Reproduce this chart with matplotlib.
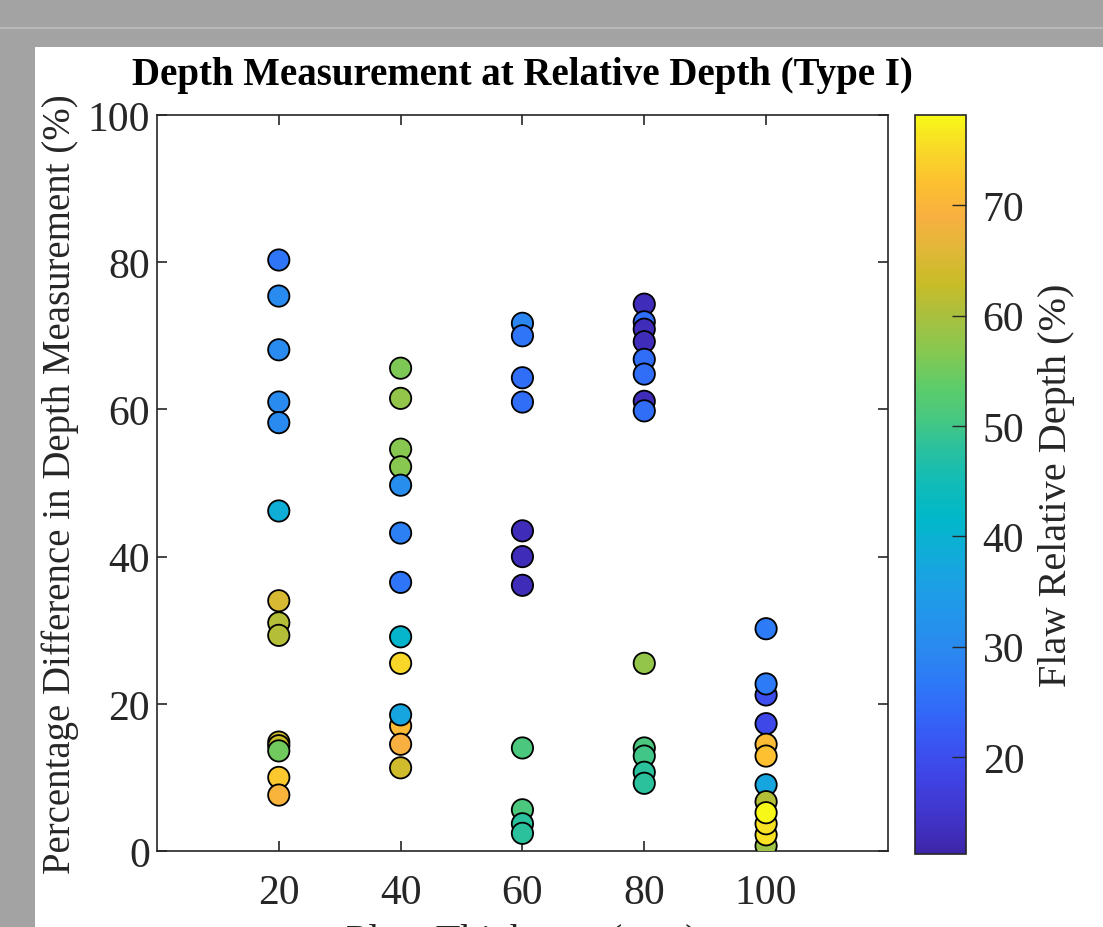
import matplotlib
matplotlib.use("Agg")
import matplotlib.pyplot as plt
from matplotlib.colors import LinearSegmentedColormap
from matplotlib.patches import Rectangle

# espessura da placa (mm)
thickness = [20] * 14 + [40] * 13 + [60] * 11 + [80] * 13 + [100] * 12

# diferenca percentual na medicao de profundidade (%)
diff = [80.3, 75.4, 68.1, 61.0, 58.2, 46.2, 34.0, 31.0, 29.3, 14.8, 14.3, 13.6, 10.0, 7.6,
        65.6, 61.5, 54.6, 52.2, 49.7, 43.2, 36.5, 29.1, 25.5, 17.0, 18.5, 14.5, 11.3,
        71.7, 70.0, 64.3, 61.0, 43.5, 40.0, 36.1, 14.0, 5.6, 3.7, 2.4,
        74.3, 71.9, 70.9, 69.2, 66.8, 64.8, 61.1, 59.8, 25.5, 14.0, 12.9, 10.7, 9.2,
        30.2, 21.2, 22.7, 17.3, 14.5, 12.9, 9.0, 6.7, 0.7, 2.2, 3.7, 5.2]

# profundidade relativa do defeito (%)
rel_depth = [26, 30, 30, 30, 30, 39, 65, 61, 61, 64, 63, 55, 73, 70,
             56, 58, 57, 57, 31, 28, 26, 41, 75, 71, 37, 69, 64,
             29, 26, 25, 25, 13, 13, 13, 51, 51, 48, 48,
             13, 25, 13, 13, 25, 25, 13, 25, 58, 51, 50, 48, 48,
             27, 20, 27, 19, 71, 72, 37, 61, 59, 76, 76, 78]

x_ticks = [20, 40, 60, 80, 100]
y_ticks = [0, 20, 40, 60, 80, 100]
cbar_ticks = [20, 30, 40, 50, 60, 70]

# aproximacao do parula do MATLAB
parula_colors = ["#3e26a8", "#4034c8", "#4040e0", "#3c50f0", "#3464f8", "#2e78f8",
                 "#2a88f0", "#2494ec", "#1ca0e4", "#10acd8", "#00b8c8", "#10bcb8",
                 "#28c0a0", "#48c880", "#60cc68", "#88c850", "#a8c040", "#c8bc28",
                 "#e0b838", "#f8b040", "#fcc030", "#f8d828", "#f8f818"]
parula = LinearSegmentedColormap.from_list("parula", parula_colors)

plt.rcParams["font.family"] = ["Liberation Serif", "DejaVu Serif"]

fig = plt.figure(figsize=(11.03, 9.28), dpi=100, facecolor="#a3a3a3")
fig.patches.append(Rectangle((35 / 1103, 0), 1, 880 / 928, transform=fig.transFigure,
                             facecolor="white", edgecolor="none", zorder=-10))
fig.patches.append(Rectangle((0, 898 / 928), 1, 2 / 928, transform=fig.transFigure,
                             facecolor="#b9b9b9", edgecolor="none", zorder=-10))

ax = fig.add_axes([0.1423, 0.0819, 0.6627, 0.7931])
ax.set_facecolor("white")
sc = ax.scatter(thickness, diff, c=rel_depth, cmap=parula, vmin=11.2, vmax=78.2,
                s=235, edgecolors="black", linewidths=1.3, zorder=3)

ax.set_xlim(0, 120)
ax.set_ylim(0, 100)
ax.set_xticks(x_ticks)
ax.set_yticks(y_ticks)
ax.tick_params(direction="in", length=7, width=1.2, top=True, right=True,
               labelsize=30, colors="#262626")
ax.tick_params(axis="x", pad=16)
ax.tick_params(axis="y", pad=5)
for s in ax.spines.values():
    s.set_color("#262626")
    s.set_linewidth(1.2)

ax.set_title("Depth Measurement at Relative Depth (Type I)", fontsize=28,
             fontweight="bold", pad=22)
ax.set_xlabel("Plate Thickness (mm)", fontsize=29, color="#262626", labelpad=8)
ax.set_ylabel("Percentage Difference in Depth Measurement (%)", fontsize=28,
              color="#262626", labelpad=6)

cax = fig.add_axes([0.8296, 0.0787, 0.0462, 0.7963])
cbar = fig.colorbar(sc, cax=cax, ticks=cbar_ticks)
cbar.ax.tick_params(direction="in", length=10, width=1.0, labelsize=30,
                    colors="#262626", pad=12)
cbar.outline.set_edgecolor("#262626")
cbar.outline.set_linewidth(1.2)
cbar.set_label("Flaw Relative Depth (%)", fontsize=29, color="#262626", labelpad=10)

fig.savefig("out.png", dpi=100, facecolor=fig.get_facecolor())
